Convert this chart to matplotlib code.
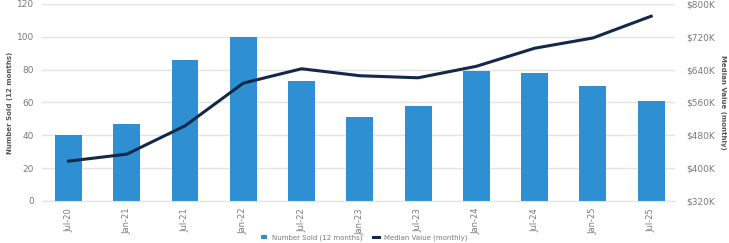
import matplotlib
matplotlib.use("Agg")
import matplotlib.pyplot as plt
from matplotlib.ticker import FuncFormatter

periods = ["Jul-20", "Jan-21", "Jul-21", "Jan-22", "Jul-22", "Jan-23",
           "Jul-23", "Jan-24", "Jul-24", "Jan-25", "Jul-25"]
sold_12m = [40, 47, 86, 100, 73, 51, 58, 79, 78, 70, 61]
median_k = [417, 434, 503, 607, 642, 625, 620, 648, 692, 717, 770]

BAR = "#2f8fd3"; LINE = "#14284a"; GRID = "#e3e3e3"; TXT = "#7a7a7a"
plt.rcParams.update({"font.family": "DejaVu Sans", "font.size": 6.5})

fig = plt.figure(figsize=(7.29, 2.43), dpi=100)
ax = fig.add_axes([0.058, 0.173, 0.868, 0.811])
x = list(range(len(periods)))
ax.bar(x, sold_12m, width=0.46, color=BAR, zorder=2, label="Number Sold (12 months)")
ax.set_ylim(0, 120)
ax.set_yticks(range(0, 121, 20))
ax.set_xlim(-0.45, 10.41)
ax.set_xticks(x)
ax.set_xticklabels(periods, rotation=90, color=TXT, fontsize=6)
ax.tick_params(axis="y", colors=TXT, length=0, pad=6)
ax.tick_params(axis="x", length=0, pad=5)
ax.grid(axis="y", color=GRID, lw=1, zorder=0)
for s in ["top", "left", "right"]:
    ax.spines[s].set_visible(False)
ax.spines["bottom"].set_color(GRID)
ax.set_ylabel("Number Sold (12 months)", color="#555555", fontsize=5, fontweight="bold", labelpad=3)

ax2 = ax.twinx()
ax2.plot(x, median_k, color=LINE, lw=2.2, zorder=3, label="Median Value (monthly)")
ax2.set_ylim(320, 800)
ax2.set_yticks(range(320, 801, 80))
ax2.yaxis.set_major_formatter(FuncFormatter(lambda v, p: f"${v:.0f}K"))
ax2.tick_params(axis="y", colors=TXT, length=0, pad=8)
for s in ax2.spines.values():
    s.set_visible(False)
ax2.set_ylabel("Median Value (monthly)", color="#555555", fontsize=5, fontweight="bold",
               rotation=270, labelpad=8)

h1, l1 = ax.get_legend_handles_labels()
h2, l2 = ax2.get_legend_handles_labels()
fig.legend(h1 + h2, l1 + l2, loc="center", bbox_to_anchor=(0.5, 0.022), ncol=2,
           frameon=False, fontsize=5, labelcolor=TXT, handlelength=0.8, handleheight=0.6,
           borderpad=0, columnspacing=1.5)

fig.savefig("out.png", dpi=100)
